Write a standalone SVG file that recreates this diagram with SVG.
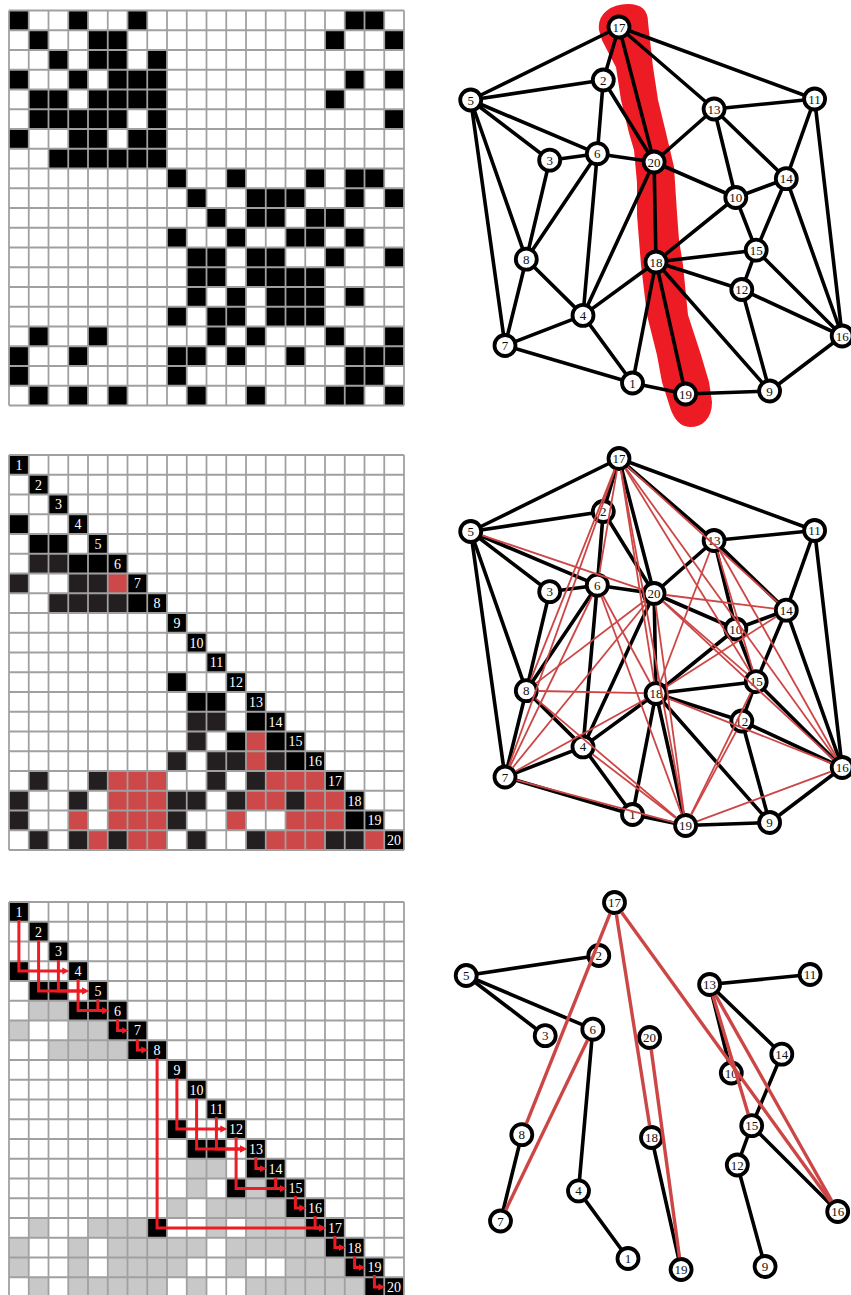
<svg xmlns="http://www.w3.org/2000/svg" xmlns:xlink="http://www.w3.org/1999/xlink" width="851" height="1295" viewBox="0 0 851 1295">
<style>
.grid{fill:none;stroke:#a0a0a0;stroke-width:0.09}
.k{fill:#000}
.d{fill:#231f20}
.r{fill:#cd4848}
.g{fill:#c8c8c8}
.lab{font-family:"Liberation Serif","DejaVu Serif",serif;font-size:14px;fill:#fff;text-anchor:middle}
.e line{stroke:#000;stroke-width:3.6;stroke-linecap:round}
.f line{stroke:#cd4646;stroke-width:1.8}
.f3 line{stroke:#cd4646;stroke-width:3.4}
.n circle{fill:#fff;stroke:#000;stroke-width:3.8}
.n text{font-family:"Liberation Serif","DejaVu Serif",serif;font-size:13px;text-anchor:middle;fill:#111}
.arr path{fill:none;stroke:#ed1c24;stroke-width:3;marker-end:url(#ah)}
</style>
<defs>
<path id="grid" class="grid" d="M0 0V20M1 0V20M2 0V20M3 0V20M4 0V20M5 0V20M6 0V20M7 0V20M8 0V20M9 0V20M10 0V20M11 0V20M12 0V20M13 0V20M14 0V20M15 0V20M16 0V20M17 0V20M18 0V20M19 0V20M20 0V20M0 0H20M0 1H20M0 2H20M0 3H20M0 4H20M0 5H20M0 6H20M0 7H20M0 8H20M0 9H20M0 10H20M0 11H20M0 12H20M0 13H20M0 14H20M0 15H20M0 16H20M0 17H20M0 18H20M0 19H20M0 20H20"/>
<marker id="ah" markerUnits="userSpaceOnUse" markerWidth="8" markerHeight="8" refX="1" refY="4" orient="auto"><path d="M0 0.5L7 4L0 7.5z" fill="#ed1c24"/></marker>
<g id="E49" stroke="#000" stroke-width="3.6" stroke-linecap="round" fill="none">
<line x1="632.5" y1="383" x2="583" y2="315.4"/>
<line x1="632.5" y1="383" x2="505" y2="345.5"/>
<line x1="632.5" y1="383" x2="656" y2="262"/>
<line x1="632.5" y1="383" x2="685.6" y2="394"/>
<line x1="603.3" y1="80" x2="470.7" y2="100"/>
<line x1="603.3" y1="80" x2="597.3" y2="153.7"/>
<line x1="603.3" y1="80" x2="619" y2="27"/>
<line x1="603.3" y1="80" x2="654.1" y2="162"/>
<line x1="549.7" y1="160.2" x2="470.7" y2="100"/>
<line x1="549.7" y1="160.2" x2="597.3" y2="153.7"/>
<line x1="549.7" y1="160.2" x2="526.3" y2="259.2"/>
<line x1="583" y1="315.4" x2="597.3" y2="153.7"/>
<line x1="583" y1="315.4" x2="505" y2="345.5"/>
<line x1="583" y1="315.4" x2="526.3" y2="259.2"/>
<line x1="583" y1="315.4" x2="656" y2="262"/>
<line x1="583" y1="315.4" x2="654.1" y2="162"/>
<line x1="470.7" y1="100" x2="597.3" y2="153.7"/>
<line x1="470.7" y1="100" x2="505" y2="345.5"/>
<line x1="470.7" y1="100" x2="526.3" y2="259.2"/>
<line x1="470.7" y1="100" x2="619" y2="27"/>
<line x1="597.3" y1="153.7" x2="526.3" y2="259.2"/>
<line x1="597.3" y1="153.7" x2="654.1" y2="162"/>
<line x1="505" y1="345.5" x2="526.3" y2="259.2"/>
<line x1="769.6" y1="391" x2="741.8" y2="289.5"/>
<line x1="769.6" y1="391" x2="842.2" y2="336"/>
<line x1="769.6" y1="391" x2="656" y2="262"/>
<line x1="769.6" y1="391" x2="685.6" y2="394"/>
<line x1="735.8" y1="197.5" x2="714.1" y2="109"/>
<line x1="735.8" y1="197.5" x2="786.3" y2="178.7"/>
<line x1="735.8" y1="197.5" x2="756.2" y2="250.2"/>
<line x1="735.8" y1="197.5" x2="656" y2="262"/>
<line x1="735.8" y1="197.5" x2="654.1" y2="162"/>
<line x1="814.6" y1="99" x2="714.1" y2="109"/>
<line x1="814.6" y1="99" x2="786.3" y2="178.7"/>
<line x1="814.6" y1="99" x2="842.2" y2="336"/>
<line x1="814.6" y1="99" x2="619" y2="27"/>
<line x1="741.8" y1="289.5" x2="756.2" y2="250.2"/>
<line x1="741.8" y1="289.5" x2="842.2" y2="336"/>
<line x1="741.8" y1="289.5" x2="656" y2="262"/>
<line x1="714.1" y1="109" x2="786.3" y2="178.7"/>
<line x1="714.1" y1="109" x2="619" y2="27"/>
<line x1="714.1" y1="109" x2="654.1" y2="162"/>
<line x1="786.3" y1="178.7" x2="756.2" y2="250.2"/>
<line x1="786.3" y1="178.7" x2="842.2" y2="336"/>
<line x1="756.2" y1="250.2" x2="842.2" y2="336"/>
<line x1="756.2" y1="250.2" x2="656" y2="262"/>
<line x1="619" y1="27" x2="654.1" y2="162"/>
<line x1="656" y1="262" x2="685.6" y2="394"/>
<line x1="656" y1="262" x2="654.1" y2="162"/>
</g>
</defs>

<!-- Matrix 1 -->
<g id="matrix1" transform="translate(9 10.5) scale(19.75)">
<path class="k" d="M0 0h1v1h-1zM3 0h1v1h-1zM6 0h1v1h-1zM17 0h2v1h-2zM1 1h1v1h-1zM4 1h2v1h-2zM16 1h1v1h-1zM19 1h1v1h-1zM2 2h1v1h-1zM4 2h2v1h-2zM7 2h1v1h-1zM0 3h1v1h-1zM3 3h1v1h-1zM5 3h3v1h-3zM17 3h1v1h-1zM19 3h1v1h-1zM1 4h2v1h-2zM4 4h4v1h-4zM16 4h1v1h-1zM1 5h5v1h-5zM7 5h1v1h-1zM19 5h1v1h-1zM0 6h1v1h-1zM3 6h2v1h-2zM6 6h2v1h-2zM2 7h6v1h-6zM8 8h1v1h-1zM11 8h1v1h-1zM15 8h1v1h-1zM17 8h2v1h-2zM9 9h1v1h-1zM12 9h3v1h-3zM17 9h1v1h-1zM19 9h1v1h-1zM10 10h1v1h-1zM12 10h2v1h-2zM15 10h2v1h-2zM8 11h1v1h-1zM11 11h1v1h-1zM14 11h2v1h-2zM17 11h1v1h-1zM9 12h2v1h-2zM12 12h2v1h-2zM16 12h1v1h-1zM19 12h1v1h-1zM9 13h2v1h-2zM12 13h4v1h-4zM9 14h1v1h-1zM11 14h1v1h-1zM13 14h3v1h-3zM17 14h1v1h-1zM8 15h1v1h-1zM10 15h2v1h-2zM13 15h3v1h-3zM1 16h1v1h-1zM4 16h1v1h-1zM10 16h1v1h-1zM12 16h1v1h-1zM16 16h1v1h-1zM19 16h1v1h-1zM0 17h1v1h-1zM3 17h1v1h-1zM8 17h2v1h-2zM11 17h1v1h-1zM14 17h1v1h-1zM17 17h3v1h-3zM0 18h1v1h-1zM8 18h1v1h-1zM17 18h2v1h-2zM1 19h1v1h-1zM3 19h1v1h-1zM5 19h1v1h-1zM9 19h1v1h-1zM12 19h1v1h-1zM16 19h2v1h-2zM19 19h1v1h-1z"/>
<use xlink:href="#grid" href="#grid"/>
</g>

<!-- Matrix 2 -->
<g id="matrix2">
<g transform="translate(9 455) scale(19.75)">
<path class="k" d="M0 0h1v1h-1zM1 1h1v1h-1zM2 2h1v1h-1zM0 3h1v1h-1zM3 3h1v1h-1zM1 4h2v1h-2zM4 4h1v1h-1zM3 5h3v1h-3zM6 6h1v1h-1zM6 7h2v1h-2zM8 8h1v1h-1zM9 9h1v1h-1zM10 10h1v1h-1zM8 11h1v1h-1zM11 11h1v1h-1zM9 12h2v1h-2zM12 12h1v1h-1zM12 13h2v1h-2zM11 14h1v1h-1zM13 14h2v1h-2zM14 15h2v1h-2zM16 16h1v1h-1zM17 17h1v1h-1zM17 18h2v1h-2zM19 19h1v1h-1z"/>
<path class="d" d="M1 5h2v1h-2zM0 6h1v1h-1zM3 6h2v1h-2zM2 7h4v1h-4zM9 13h2v1h-2zM9 14h1v1h-1zM8 15h1v1h-1zM10 15h2v1h-2zM13 15h1v1h-1zM1 16h1v1h-1zM4 16h1v1h-1zM10 16h1v1h-1zM12 16h1v1h-1zM0 17h1v1h-1zM3 17h1v1h-1zM8 17h2v1h-2zM11 17h1v1h-1zM14 17h1v1h-1zM0 18h1v1h-1zM8 18h1v1h-1zM1 19h1v1h-1zM3 19h1v1h-1zM5 19h1v1h-1zM9 19h1v1h-1zM12 19h1v1h-1zM16 19h2v1h-2z"/>
<path class="r" d="M5 6h1v1h-1zM12 14h1v1h-1zM12 15h1v1h-1zM5 16h3v1h-3zM13 16h3v1h-3zM5 17h3v1h-3zM12 17h2v1h-2zM15 17h2v1h-2zM3 18h1v1h-1zM5 18h3v1h-3zM11 18h1v1h-1zM14 18h3v1h-3zM4 19h1v1h-1zM6 19h2v1h-2zM13 19h3v1h-3zM18 19h1v1h-1z"/>
<use xlink:href="#grid" href="#grid"/>
</g>
<g class="lab">
<text x="18.9" y="469.9">1</text><text x="38.6" y="489.6">2</text><text x="58.4" y="509.4">3</text><text x="78.1" y="529.1">4</text><text x="97.9" y="548.9">5</text><text x="117.6" y="568.6">6</text><text x="137.4" y="588.4">7</text><text x="157.1" y="608.1">8</text><text x="176.9" y="627.9">9</text><text x="196.6" y="647.6">10</text><text x="216.4" y="667.4">11</text><text x="236.1" y="687.1">12</text><text x="255.9" y="706.9">13</text><text x="275.6" y="726.6">14</text><text x="295.4" y="746.4">15</text><text x="315.1" y="766.1">16</text><text x="334.9" y="785.9">17</text><text x="354.6" y="805.6">18</text><text x="374.4" y="825.4">19</text><text x="394.1" y="845.1">20</text>
</g>
</g>

<!-- Matrix 3 -->
<g id="matrix3">
<g transform="translate(9 902) scale(19.75)">
<path class="k" d="M0 0h1v1h-1zM1 1h1v1h-1zM2 2h1v1h-1zM0 3h1v1h-1zM3 3h1v1h-1zM1 4h2v1h-2zM4 4h1v1h-1zM3 5h3v1h-3zM5 6h2v1h-2zM6 7h2v1h-2zM8 8h1v1h-1zM9 9h1v1h-1zM10 10h1v1h-1zM8 11h1v1h-1zM11 11h1v1h-1zM9 12h2v1h-2zM12 12h1v1h-1zM12 13h2v1h-2zM11 14h1v1h-1zM13 14h2v1h-2zM14 15h2v1h-2zM7 16h1v1h-1zM15 16h2v1h-2zM16 17h2v1h-2zM17 18h2v1h-2zM18 19h2v1h-2z"/>
<path class="g" d="M1 5h2v1h-2zM0 6h1v1h-1zM3 6h2v1h-2zM2 7h4v1h-4zM9 13h2v1h-2zM9 14h1v1h-1zM12 14h1v1h-1zM8 15h1v1h-1zM10 15h4v1h-4zM1 16h1v1h-1zM4 16h3v1h-3zM10 16h1v1h-1zM12 16h3v1h-3zM0 17h1v1h-1zM3 17h1v1h-1zM5 17h5v1h-5zM11 17h5v1h-5zM0 18h1v1h-1zM3 18h1v1h-1zM5 18h4v1h-4zM11 18h1v1h-1zM14 18h3v1h-3zM1 19h1v1h-1zM3 19h5v1h-5zM9 19h1v1h-1zM12 19h6v1h-6z"/>
<use xlink:href="#grid" href="#grid"/>
</g>
<g id="etree-arrows" class="arr">
<path d="M18.9 920V971.1H63.3"/>
<path d="M38.6 940V990.9H83"/>
<path d="M58.4 960V990.9H83"/>
<path d="M78.1 979V1010.6H102.8"/>
<path d="M97.9 999V1010.6H102.8"/>
<path d="M117.6 1019V1030.4H122.5"/>
<path d="M137.4 1039V1050.1H142.3"/>
<path d="M157.1 1058V1227.9H320"/>
<path d="M176.9 1078V1129.1H221.3"/>
<path d="M196.6 1098V1148.9H241"/>
<path d="M216.4 1117V1148.9H241"/>
<path d="M236.1 1137V1188.4H280.5"/>
<path d="M255.9 1157V1168.6H260.8"/>
<path d="M275.6 1177V1188.4H280.5"/>
<path d="M295.4 1196V1208.1H300.3"/>
<path d="M315.1 1216V1227.9H320"/>
<path d="M334.9 1236V1247.6H339.8"/>
<path d="M354.6 1256V1267.4H359.5"/>
<path d="M374.4 1275V1287.1H379.3"/>
</g>
<g class="lab">
<text x="18.9" y="916.9">1</text><text x="38.6" y="936.6">2</text><text x="58.4" y="956.4">3</text><text x="78.1" y="976.1">4</text><text x="97.9" y="995.9">5</text><text x="117.6" y="1015.6">6</text><text x="137.4" y="1035.4">7</text><text x="157.1" y="1055.1">8</text><text x="176.9" y="1074.9">9</text><text x="196.6" y="1094.6">10</text><text x="216.4" y="1114.4">11</text><text x="236.1" y="1134.1">12</text><text x="255.9" y="1153.9">13</text><text x="275.6" y="1173.6">14</text><text x="295.4" y="1193.4">15</text><text x="315.1" y="1213.1">16</text><text x="334.9" y="1232.9">17</text><text x="354.6" y="1252.6">18</text><text x="374.4" y="1272.4">19</text><text x="394.1" y="1292.1">20</text>
</g>
</g>

<!-- Graph 1 -->
<g id="graph1">
<path id="separator-band" fill="#ed1c24" stroke="#ed1c24" stroke-width="2" stroke-linejoin="round" d="M600 30C598 14 612 5 628 5C640 5 647 10 647 22L652 67L657 100L665 133L673 167L676 213L678 240L682 265L687 315L700 355L708 382L711 402C711 418 702 426 690 426C680 426 674 418 670 404L663 382L658 355L648 315L642 265L638 215L638 183L635 150L630 133L622 100L617 67L603 40Z"/>
<g id="graph1-edges"><use xlink:href="#E49" href="#E49"/></g>
<g id="graph1-nodes" class="n">
<g id="g1-n1" transform="translate(632.5 383)"><circle r="10.5"/><text y="4.5">1</text></g>
<g id="g1-n2" transform="translate(603.3 80)"><circle r="10.5"/><text y="4.5">2</text></g>
<g id="g1-n3" transform="translate(549.7 160.2)"><circle r="10.5"/><text y="4.5">3</text></g>
<g id="g1-n4" transform="translate(583 315.4)"><circle r="10.5"/><text y="4.5">4</text></g>
<g id="g1-n5" transform="translate(470.7 100)"><circle r="10.5"/><text y="4.5">5</text></g>
<g id="g1-n6" transform="translate(597.3 153.7)"><circle r="10.5"/><text y="4.5">6</text></g>
<g id="g1-n7" transform="translate(505 345.5)"><circle r="10.5"/><text y="4.5">7</text></g>
<g id="g1-n8" transform="translate(526.3 259.2)"><circle r="10.5"/><text y="4.5">8</text></g>
<g id="g1-n9" transform="translate(769.6 391)"><circle r="10.5"/><text y="4.5">9</text></g>
<g id="g1-n10" transform="translate(735.8 197.5)"><circle r="10.5"/><text y="4.5">10</text></g>
<g id="g1-n11" transform="translate(814.6 99)"><circle r="10.5"/><text y="4.5">11</text></g>
<g id="g1-n12" transform="translate(741.8 289.5)"><circle r="10.5"/><text y="4.5">12</text></g>
<g id="g1-n13" transform="translate(714.1 109)"><circle r="10.5"/><text y="4.5">13</text></g>
<g id="g1-n14" transform="translate(786.3 178.7)"><circle r="10.5"/><text y="4.5">14</text></g>
<g id="g1-n15" transform="translate(756.2 250.2)"><circle r="10.5"/><text y="4.5">15</text></g>
<g id="g1-n16" transform="translate(842.2 336)"><circle r="10.5"/><text y="4.5">16</text></g>
<g id="g1-n17" transform="translate(619 27)"><circle r="10.5"/><text y="4.5">17</text></g>
<g id="g1-n18" transform="translate(656 262)"><circle r="10.5"/><text y="4.5">18</text></g>
<g id="g1-n19" transform="translate(685.6 394)"><circle r="10.5"/><text y="4.5">19</text></g>
<g id="g1-n20" transform="translate(654.1 162)"><circle r="10.5"/><text y="4.5">20</text></g>
</g>
</g>

<!-- Graph 2 -->
<g id="graph2" transform="translate(0 431.5)">
<g id="graph2-edges"><use xlink:href="#E49" href="#E49"/></g>
<g id="graph2-nodes" class="n">
<g id="g2-n1" transform="translate(632.5 383)"><circle r="10.5"/><text y="4.5">1</text></g>
<g id="g2-n2" transform="translate(603.3 80)"><circle r="10.5"/><text y="4.5">2</text></g>
<g id="g2-n3" transform="translate(549.7 160.2)"><circle r="10.5"/><text y="4.5">3</text></g>
<g id="g2-n4" transform="translate(583 315.4)"><circle r="10.5"/><text y="4.5">4</text></g>
<g id="g2-n5" transform="translate(470.7 100)"><circle r="10.5"/><text y="4.5">5</text></g>
<g id="g2-n6" transform="translate(597.3 153.7)"><circle r="10.5"/><text y="4.5">6</text></g>
<g id="g2-n7" transform="translate(505 345.5)"><circle r="10.5"/><text y="4.5">7</text></g>
<g id="g2-n8" transform="translate(526.3 259.2)"><circle r="10.5"/><text y="4.5">8</text></g>
<g id="g2-n9" transform="translate(769.6 391)"><circle r="10.5"/><text y="4.5">9</text></g>
<g id="g2-n10" transform="translate(735.8 197.5)"><circle r="10.5"/><text y="4.5">10</text></g>
<g id="g2-n11" transform="translate(814.6 99)"><circle r="10.5"/><text y="4.5">11</text></g>
<g id="g2-n12" transform="translate(741.8 289.5)"><circle r="10.5"/><text y="4.5">12</text></g>
<g id="g2-n13" transform="translate(714.1 109)"><circle r="10.5"/><text y="4.5">13</text></g>
<g id="g2-n14" transform="translate(786.3 178.7)"><circle r="10.5"/><text y="4.5">14</text></g>
<g id="g2-n15" transform="translate(756.2 250.2)"><circle r="10.5"/><text y="4.5">15</text></g>
<g id="g2-n16" transform="translate(842.2 336)"><circle r="10.5"/><text y="4.5">16</text></g>
<g id="g2-n17" transform="translate(619 27)"><circle r="10.5"/><text y="4.5">17</text></g>
<g id="g2-n18" transform="translate(656 262)"><circle r="10.5"/><text y="4.5">18</text></g>
<g id="g2-n19" transform="translate(685.6 394)"><circle r="10.5"/><text y="4.5">19</text></g>
<g id="g2-n20" transform="translate(654.1 162)"><circle r="10.5"/><text y="4.5">20</text></g>
</g>
<g id="graph2-fill-edges" class="f">
<line x1="592.1" y1="164.5" x2="510.2" y2="334.7"/>
<line x1="717.5" y1="120.5" x2="752.8" y2="238.7"/>
<line x1="720" y1="119.5" x2="836.3" y2="325.5"/>
<line x1="617" y1="38.8" x2="599.3" y2="141.9"/>
<line x1="615" y1="38.3" x2="509" y2="334.2"/>
<line x1="614.5" y1="38.1" x2="530.8" y2="248.1"/>
<line x1="627.9" y1="35.1" x2="777.4" y2="170.6"/>
<line x1="625.3" y1="37.2" x2="749.9" y2="240"/>
<line x1="626" y1="36.7" x2="835.2" y2="326.3"/>
<line x1="650.3" y1="251.5" x2="603" y2="164.2"/>
<line x1="645.5" y1="267.8" x2="515.5" y2="339.7"/>
<line x1="644" y1="261.7" x2="538.3" y2="259.5"/>
<line x1="660.3" y1="250.8" x2="709.8" y2="120.2"/>
<line x1="666.1" y1="255.5" x2="776.2" y2="185.2"/>
<line x1="667.1" y1="266.4" x2="831.1" y2="331.6"/>
<line x1="654.1" y1="250.1" x2="620.9" y2="38.9"/>
<line x1="676.1" y1="386.7" x2="592.5" y2="322.7"/>
<line x1="681.5" y1="382.7" x2="601.4" y2="165"/>
<line x1="674" y1="390.9" x2="516.6" y2="348.6"/>
<line x1="676.4" y1="386.2" x2="535.5" y2="266.9"/>
<line x1="691.3" y1="383.4" x2="736.1" y2="300.1"/>
<line x1="690.9" y1="383.2" x2="750.9" y2="261"/>
<line x1="696.9" y1="389.8" x2="830.9" y2="340.2"/>
<line x1="683.5" y1="382.2" x2="621.1" y2="38.8"/>
<line x1="642.7" y1="158.2" x2="482.1" y2="103.8"/>
<line x1="646.5" y1="171.3" x2="512.6" y2="336.2"/>
<line x1="644.6" y1="169.3" x2="535.8" y2="251.9"/>
<line x1="666" y1="163.5" x2="774.4" y2="177.2"/>
<line x1="663.2" y1="169.8" x2="747.1" y2="242.4"/>
<line x1="662.9" y1="170.2" x2="833.4" y2="327.8"/>
<line x1="655.7" y1="173.9" x2="684" y2="382.1"/>
</g>
</g>

<!-- Graph 3 -->
<g id="graph3" transform="translate(-4.5 875.5)">
<g id="graph3-edges" class="e">
<line x1="603.3" y1="80" x2="470.7" y2="100"/>
<line x1="549.7" y1="160.2" x2="470.7" y2="100"/>
<line x1="470.7" y1="100" x2="597.3" y2="153.7"/>
<line x1="583" y1="315.4" x2="597.3" y2="153.7"/>
<line x1="632.5" y1="383" x2="583" y2="315.4"/>
<line x1="505" y1="345.5" x2="526.3" y2="259.2"/>
<line x1="656" y1="262" x2="685.6" y2="394"/>
<line x1="814.6" y1="99" x2="714.1" y2="109"/>
<line x1="735.8" y1="197.5" x2="714.1" y2="109"/>
<line x1="714.1" y1="109" x2="786.3" y2="178.7"/>
<line x1="786.3" y1="178.7" x2="756.2" y2="250.2"/>
<line x1="741.8" y1="289.5" x2="756.2" y2="250.2"/>
<line x1="756.2" y1="250.2" x2="842.2" y2="336"/>
<line x1="769.6" y1="391" x2="741.8" y2="289.5"/>
</g>
<g id="graph3-nodes" class="n">
<g id="g3-n1" transform="translate(632.5 383)"><circle r="10.5"/><text y="4.5">1</text></g>
<g id="g3-n2" transform="translate(603.3 80)"><circle r="10.5"/><text y="4.5">2</text></g>
<g id="g3-n3" transform="translate(549.7 160.2)"><circle r="10.5"/><text y="4.5">3</text></g>
<g id="g3-n4" transform="translate(583 315.4)"><circle r="10.5"/><text y="4.5">4</text></g>
<g id="g3-n5" transform="translate(470.7 100)"><circle r="10.5"/><text y="4.5">5</text></g>
<g id="g3-n6" transform="translate(597.3 153.7)"><circle r="10.5"/><text y="4.5">6</text></g>
<g id="g3-n7" transform="translate(505 345.5)"><circle r="10.5"/><text y="4.5">7</text></g>
<g id="g3-n8" transform="translate(526.3 259.2)"><circle r="10.5"/><text y="4.5">8</text></g>
<g id="g3-n9" transform="translate(769.6 391)"><circle r="10.5"/><text y="4.5">9</text></g>
<g id="g3-n10" transform="translate(735.8 197.5)"><circle r="10.5"/><text y="4.5">10</text></g>
<g id="g3-n11" transform="translate(814.6 99)"><circle r="10.5"/><text y="4.5">11</text></g>
<g id="g3-n12" transform="translate(741.8 289.5)"><circle r="10.5"/><text y="4.5">12</text></g>
<g id="g3-n13" transform="translate(714.1 109)"><circle r="10.5"/><text y="4.5">13</text></g>
<g id="g3-n14" transform="translate(786.3 178.7)"><circle r="10.5"/><text y="4.5">14</text></g>
<g id="g3-n15" transform="translate(756.2 250.2)"><circle r="10.5"/><text y="4.5">15</text></g>
<g id="g3-n16" transform="translate(842.2 336)"><circle r="10.5"/><text y="4.5">16</text></g>
<g id="g3-n17" transform="translate(619 27)"><circle r="10.5"/><text y="4.5">17</text></g>
<g id="g3-n18" transform="translate(656 262)"><circle r="10.5"/><text y="4.5">18</text></g>
<g id="g3-n19" transform="translate(685.6 394)"><circle r="10.5"/><text y="4.5">19</text></g>
<g id="g3-n20" transform="translate(654.1 162)"><circle r="10.5"/><text y="4.5">20</text></g>
</g>
<g id="graph3-fill-edges" class="f3">
<line x1="614.5" y1="38.1" x2="530.8" y2="248.1"/>
<line x1="592.1" y1="164.5" x2="510.2" y2="334.7"/>
<line x1="620.9" y1="38.9" x2="654.1" y2="250.1"/>
<line x1="655.7" y1="173.9" x2="684" y2="382.1"/>
<line x1="626" y1="36.7" x2="835.2" y2="326.3"/>
<line x1="717.5" y1="120.5" x2="752.8" y2="238.7"/>
<line x1="720" y1="119.5" x2="836.3" y2="325.5"/>
</g>
</g>
</svg>
